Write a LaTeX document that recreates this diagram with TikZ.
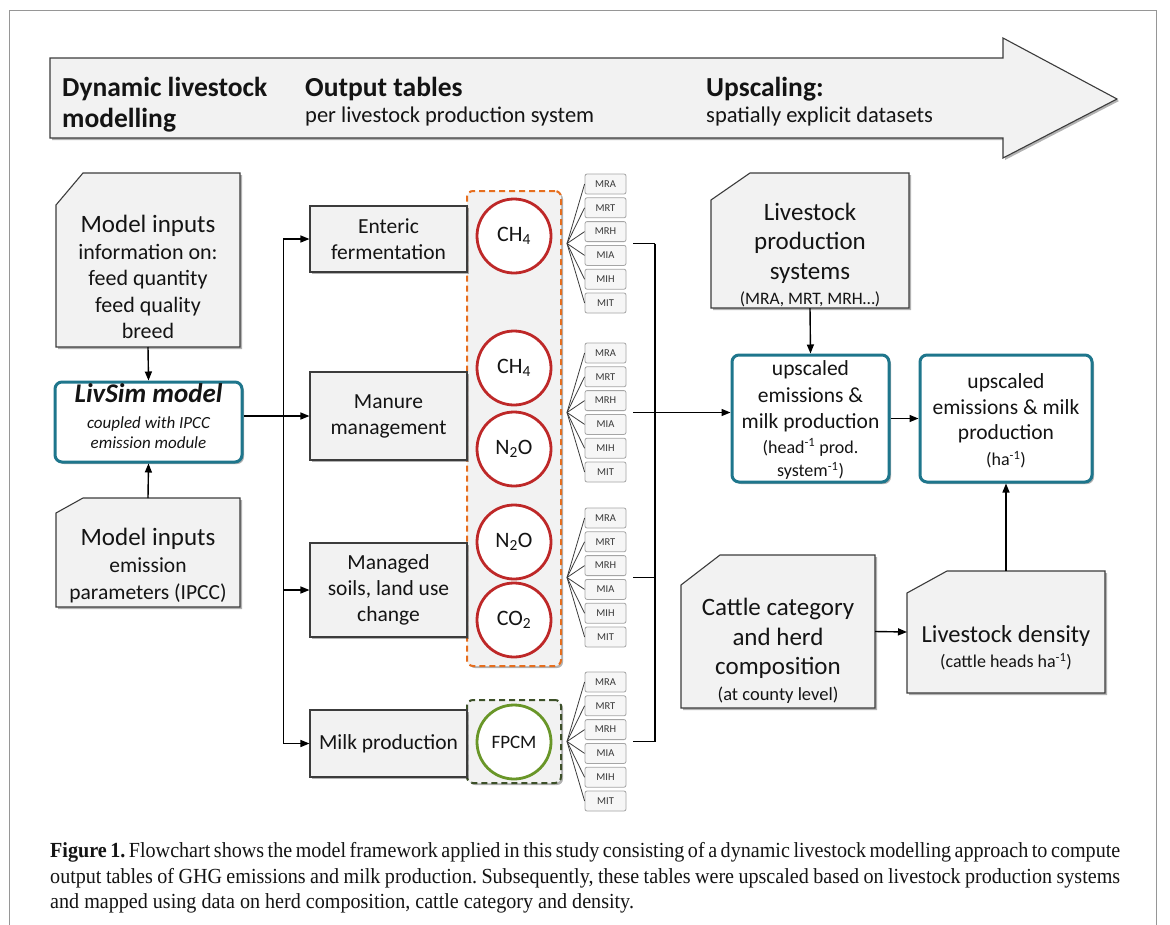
\documentclass[tikz,border=0pt]{standalone}
\usepackage{fontspec}
\setmainfont{Carlito}
\newfontfamily\capfont[FakeStretch=0.935]{Liberation Serif}
\usetikzlibrary{arrows.meta,shadows,calc}
\definecolor{tealc}{RGB}{30,118,140}
\definecolor{redc}{RGB}{190,40,40}
\definecolor{greenc}{RGB}{105,150,40}
\definecolor{orangec}{RGB}{230,110,30}
\definecolor{dgreenc}{RGB}{60,80,40}
\definecolor{boxfill}{RGB}{242,242,242}
\definecolor{boxedge}{RGB}{60,60,60}
\definecolor{framec}{RGB}{150,150,150}
\definecolor{mrfill}{RGB}{246,246,246}
\definecolor{mredge}{RGB}{165,165,165}
\definecolor{txt}{RGB}{20,20,20}
\newcommand\fs[2]{\fontsize{#1}{#2}\selectfont}
\frenchspacing
\tikzset{
  myshadow/.style={drop shadow={shadow xshift=2pt,shadow yshift=-2pt,opacity=0.3,fill=black}},
  boxline/.style={draw=boxedge,line width=1.1pt},
  ghost/.style={inner sep=0pt,outer sep=0pt},
  txtnode/.style={inner sep=0pt,align=center,text=txt},
  procbox/.style={boxline,fill=boxfill,myshadow,minimum width=157pt,inner sep=0pt,align=center,text=txt,font=\fs{21.5}{26}},
  tealbox/.style={draw=tealc,line width=3pt,fill=white,rounded corners=7pt,myshadow,inner sep=0pt,align=center,text=txt},
  gas/.style={circle,draw=redc,line width=2.8pt,fill=white,minimum size=74pt,inner sep=0pt,text=txt,font=\fs{22}{26}},
  milkgas/.style={gas,draw=greenc},
  mrbox/.style={draw=mredge,line width=0.8pt,fill=mrfill,rounded corners=2pt,minimum width=41pt,minimum height=20pt,inner sep=0pt,text=txt!85,font=\fs{10.5}{12}},
  fan/.style={draw=boxedge,line width=0.8pt},
  conn/.style={draw=black,line width=1.4pt},
  arr/.style={conn,-{Triangle[length=9pt,width=7pt]}},
  titlefont/.style={font=\bfseries\fs{27.5}{30},anchor=base west,inner sep=0pt,text=txt},
  subfont/.style={font=\fs{22.5}{26},anchor=base west,inner sep=0pt,text=txt},
  capline/.style={anchor=base west,inner sep=0pt,font=\capfont\fs{21.5}{24},text=txt},
}
\newcommand\snipbox[7]{%
  \node[ghost,minimum width=#4pt,minimum height=#5pt] (#1) at (#2,#3) {};
  \draw[boxline,fill=boxfill,myshadow] ($(#1.north west)+(#6,0)$) -- (#1.north east) -- (#1.south east) -- (#1.south west) -- ($(#1.north west)+(0,#7)$) -- cycle;}
\begin{document}
\begin{tikzpicture}[x=1pt,y=-1pt]
\useasboundingbox (0,0) rectangle (1170,924);
\fill[white] (0,0) rectangle (1170,924);
% frame
\draw[framec,line width=1.6pt] (9.5,10.5) rectangle (1156.5,940);
% big top arrow
\draw[boxline,fill=boxfill,myshadow] (50,58) -- (1003,58) -- (1003,38) -- (1117,99) -- (1003,158) -- (1003,138) -- (50,138) -- cycle;
\node[titlefont] (t1a) at (62,96) {Dynamic livestock};
\node[titlefont] (t1b) at (62,127) {modelling};
\node[titlefont] (t2a) at (305,96) {Output tables};
\node[subfont] (t2b) at (305,122) {per livestock production system};
\node[titlefont] (t3a) at (706,96) {Upscaling:};
\node[subfont] (t3b) at (706,122) {spatially explicit datasets};

% left inputs
\snipbox{in1}{148}{260}{184}{174}{27}{32}
\node[txtnode,font=\fs{22}{26.5}] (in1t) at (148,277) {{\fs{25}{26.5}Model inputs}\\information on:\\feed quantity\\feed quality\\breed};
\snipbox{in2}{148}{552.5}{184}{109}{27}{15}
\node[txtnode,font=\fs{21.5}{27}] (in2t) at (148,566) {{\fs{25}{27}Model inputs}\\emission\\parameters (IPCC)};
\node[tealbox,minimum width=187pt,minimum height=80pt] (liv) at (148.5,422) {};
\node[txtnode,font=\itshape\fs{17}{20}] (livt) at (148.5,416) {{\bfseries\itshape\fs{27}{27}LivSim model}\\[6pt]coupled with IPCC\\emission module};
\draw[arr] (in1.south) -- (liv.north);
\draw[arr] (in2.north) -- (liv.south);

% dashed output containers
\node[draw=orangec,line width=2pt,dash pattern=on 6pt off 4pt,rounded corners=6pt,fill=boxfill,myshadow,minimum width=94pt,minimum height=475pt,inner sep=0pt] (emis) at (514,428.5) {};
\node[draw=dgreenc,line width=2pt,dash pattern=on 6pt off 4pt,rounded corners=6pt,fill=boxfill,myshadow,minimum width=94pt,minimum height=83pt,inner sep=0pt] (milkc) at (514,741.5) {};

% process boxes
\node[procbox,minimum height=66pt] (ent) at (388.5,239) {Enteric\\fermentation};
\node[procbox,minimum height=88pt] (man) at (388.5,416) {Manure\\management};
\node[procbox,minimum height=94pt] (soil) at (388.5,590) {Managed\\soils, land use\\change};
\node[procbox,minimum height=67pt] (milk) at (388.5,743.5) {Milk production};

% trunk
\coordinate (tk1) at ($(ent.west)+(-26,0)$);
\coordinate (tk3) at ($(soil.west)+(-26,0)$);
\coordinate (tk4) at ($(milk.west)+(-26,0)$);
\draw[conn] (tk1) -- (tk4);
\draw[arr] (tk1) -- (ent.west);
\draw[arr] (tk3) -- (soil.west);
\draw[arr] (tk4) -- (milk.west);
\draw[arr] (liv.east |- man.west) -- (man.west);

% gas circles
\node[gas] (ch4a) at (514,236) {CH\textsubscript{4}};
\node[gas] (ch4b) at (514,368) {CH\textsubscript{4}};
\node[gas] (n2oa) at (514,449) {N\textsubscript{2}O};
\node[gas] (n2ob) at (514,542) {N\textsubscript{2}O};
\node[gas] (co2) at (514,620) {CO\textsubscript{2}};
\node[milkgas,font=\fs{19}{22}] (fpcm) at (514,742) {FPCM};

% production system tables
\foreach \g/\s in {1/184,2/353,3/518,4/682}{
  \coordinate (f\g) at (567,\s+59.5);
  \foreach \lab [count=\i from 0] in {MRA,MRT,MRH,MIA,MIH,MIT}{
    \node[mrbox] (g\g m\i) at (605.5,\s+\i*23.8) {\lab};
    \draw[fan] (f\g) -- (g\g m\i.west);
  }
  \coordinate (k\g) at (633,\s+59.5);
  \coordinate (v\g) at (655,\s+59.5);
}

% right side
\snipbox{lps}{810}{240.5}{198}{135}{39}{27}
\node[txtnode,font=\fs{25}{29.5}] (lpst) at (810,255) {Livestock\\production\\systems\\[-4.5pt]{\fs{17.5}{20}(MRA, MRT, MRH…)}};
\node[tealbox,minimum width=157pt,minimum height=127pt] (up1) at (810.5,418.5) {};
\node[txtnode,font=\fs{21.5}{26.5}] (up1t) at (810.5,420) {upscaled\\emissions \&\\milk production\\[-2pt]{\fs{18}{20}(head\textsuperscript{-1} prod.}\\[-3pt]{\fs{18}{20}system\textsuperscript{-1})}};
\node[tealbox,minimum width=172pt,minimum height=127pt] (up2) at (1006,418.5) {};
\node[txtnode,font=\fs{21.5}{25.5}] (up2t) at (1006,421) {upscaled\\emissions \& milk\\production\\{\fs{18}{20}(ha\textsuperscript{-1})}};
\snipbox{cat}{778}{631.5}{194}{153}{39}{30}
\node[txtnode,font=\fs{25}{29.5}] (catt) at (778,651) {Cattle category\\and herd\\composition\\[-3.5pt]{\fs{18.5}{20}(at county level)}};
\snipbox{den}{1006}{632}{198}{122}{40}{22}
\node[txtnode,font=\fs{24.5}{25}] (dent) at (1006,648) {Livestock density\\{\fs{18}{20}(cattle heads ha\textsuperscript{-1})}};

% collectors
\draw[conn,line width=1.2pt] (k1) -- (v1);
\draw[conn,line width=1.2pt] (k3) -- (v3);
\draw[conn,line width=1.2pt] (k4) -- (v4);
\draw[conn,line width=1.2pt] (v1) -- (v4);
\draw[arr] (k2) -- (k2 -| up1.west);
\draw[arr] (lps.south) -- (up1.north);
\draw[arr] (up1.east) -- (up2.west);
\draw[arr] (den.north) -- (up2.south);
\draw[arr] (cat.east) -- (den.west);

% caption
\node[capline] (cap1) at (50,857) {\makebox[1070pt][s]{\textbf{Figure 1.} Flowchart shows the model framework applied in this study consisting of a dynamic livestock modelling approach to compute}};
\node[capline] (cap2) at (50,883) {\makebox[1070pt][s]{output tables of GHG emissions and milk production. Subsequently, these tables were upscaled based on livestock production systems}};
\node[capline] (cap3) at (50,908) {and mapped using data on herd composition, cattle category and density.};
\end{tikzpicture}
\end{document}
